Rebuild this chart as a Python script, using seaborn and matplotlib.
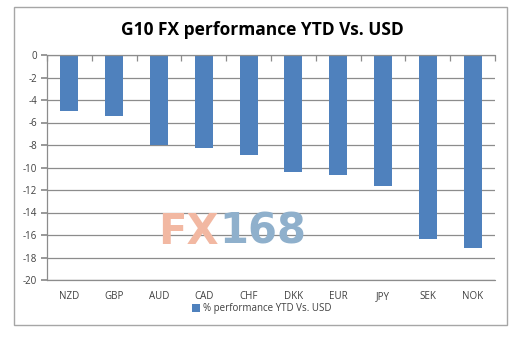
import matplotlib
matplotlib.use("Agg")
import matplotlib.pyplot as plt
import seaborn as sns
import pandas as pd
from matplotlib.patches import Rectangle

currencies = ["NZD", "GBP", "AUD", "CAD", "CHF", "DKK", "EUR", "JPY", "SEK", "NOK"]
performance = [-5.0, -5.4, -8.0, -8.25, -8.9, -10.4, -10.7, -11.6, -16.4, -17.15]
y_ticks = list(range(0, -21, -2))
title = "G10 FX performance YTD Vs. USD"
series_name = "% performance YTD Vs. USD"

df = pd.DataFrame({"currency": currencies, "value": performance})

sns.set_theme(style="white")
plt.rcParams["font.family"] = ["Open Sans", "DejaVu Sans"]

W, H = 529, 344
fig = plt.figure(figsize=(W / 100, H / 100), dpi=100)
fig.patch.set_facecolor("white")

# outer chart border
fig.patches.append(Rectangle((14 / W, 1 - 325 / H), (507 - 14) / W, (325 - 7) / H,
                             transform=fig.transFigure, fill=False,
                             edgecolor="#a6a6a6", linewidth=1.0))

ax = fig.add_axes([47 / W, 1 - 280 / H, (495 - 47) / W, (280 - 55) / H])
bar_color = "#4f81bd"
sns.barplot(data=df, x="currency", y="value", color=bar_color, width=0.4,
            saturation=1, ax=ax, label=series_name, zorder=3)
for p in ax.patches:
    p.set_edgecolor("none")

ax.set_ylim(-20, 0)
ax.set_xlim(-0.5, len(currencies) - 0.5)
ax.set_yticks(y_ticks)
ax.set_yticklabels([str(v) for v in y_ticks])
ax.yaxis.grid(True, color="#8c8c8c", linewidth=0.9, zorder=0)
ax.set_xlabel("")
ax.set_ylabel("")
for s in ["top", "right", "bottom"]:
    ax.spines[s].set_visible(False)
ax.spines["left"].set_color("#8c8c8c")
ax.spines["left"].set_linewidth(0.9)
ax.tick_params(axis="y", left=True, length=4, color="#8c8c8c", labelsize=7,
               labelcolor="#404040", pad=3)
ax.tick_params(axis="x", bottom=False, length=0, labelsize=7, labelcolor="#404040", pad=8)
ax.axhline(0, color="#8c8c8c", linewidth=0.9, zorder=4, clip_on=False)
ax.axhline(-20, color="#8c8c8c", linewidth=0.9, zorder=4, clip_on=False)

# category boundary tick marks on the zero line
sec = ax.secondary_xaxis("top")
sec.set_xticks([i - 0.5 for i in range(len(currencies) + 1)])
sec.set_xticklabels([])
sec.tick_params(axis="x", direction="in", length=4, color="#8c8c8c", width=0.9)
sec.spines["top"].set_visible(False)

fig.text(262 / W, 1 - 30 / H, title, ha="center", va="center",
         fontsize=12.5, fontweight="bold", color="#000000")

leg = ax.legend(loc="center", bbox_to_anchor=(262 / W, 1 - 309 / H),
                bbox_transform=fig.transFigure, frameon=False, fontsize=7,
                handlelength=0.8, handleheight=0.8, handletextpad=0.3)
for t in leg.get_texts():
    t.set_color("#404040")

# FX168 watermark
fig.text(219 / W, 1 - 232 / H, "FX", ha="right", va="center", fontsize=30,
         fontweight="bold", color="#f2b8a2", family=["DejaVu Sans"])
fig.text(219 / W, 1 - 232 / H, "168", ha="left", va="center", fontsize=30,
         fontweight="bold", color="#8fb0cc", family=["DejaVu Sans"])

fig.savefig("out.png", dpi=100, facecolor="white")
